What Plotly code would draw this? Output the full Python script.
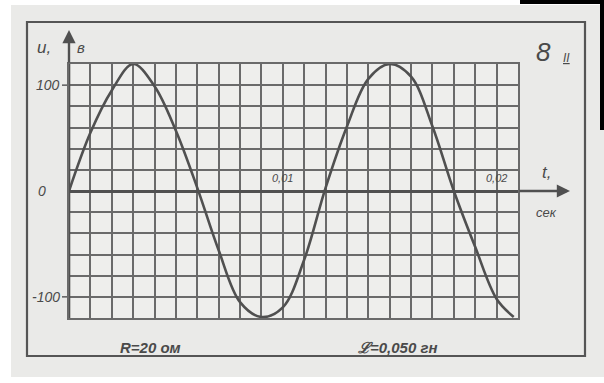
import plotly.graph_objects as go

# data
t_sec = [0.000, 0.001, 0.002, 0.003, 0.004, 0.005, 0.006, 0.007, 0.008, 0.009, 0.010,
         0.011, 0.012, 0.013, 0.014, 0.015, 0.016, 0.017, 0.018, 0.019, 0.020, 0.0208]
u_volt = [0, 55, 95, 120, 99, 57, 3, -56, -105, -119, -110,
          -65, 3, 61, 106, 120, 108, 61, 0, -53, -102, -119]
y_tick_vals = [100, 0, -100]
y_tick_text = ["100", "0", "-100"]
x_tick_vals = [0.01, 0.02]
x_tick_text = ["0,01", "0,02"]

W, H = 604, 383
L, R, T, B = 69, 86, 64, 65
PW, PH = W - L - R, H - T - B

def px(X):
    return (X - L) / PW

def py(Y):
    return (H - B - Y) / PH

INK = "#4a4a4a"
GRID = "#6a6a6a"
BG = "#eaeae8"
FONT = "Liberation Sans"

fig = go.Figure()
fig.add_trace(go.Scatter(x=t_sec, y=u_volt, mode="lines", line_shape="spline",
                         line=dict(color="#505050", width=2.6), hoverinfo="skip",
                         showlegend=False))

fig.update_layout(
    width=W, height=H,
    margin=dict(l=L, r=R, t=T, b=B, pad=0),
    paper_bgcolor=BG, plot_bgcolor="#eeeeec",
    showlegend=False,
    xaxis=dict(range=[0, 0.021], dtick=0.001, tick0=0, showgrid=True,
               gridcolor=GRID, gridwidth=1.7, showticklabels=False, ticks="",
               zeroline=False, showline=True, mirror=True, linecolor=GRID,
               linewidth=1.7, fixedrange=True),
    yaxis=dict(range=[-120, 120], dtick=20, tick0=0, showgrid=True,
               gridcolor=GRID, gridwidth=1.7, showticklabels=False, ticks="",
               zeroline=True, zerolinecolor="#505050", zerolinewidth=2.6,
               showline=True, mirror=True, linecolor=GRID, linewidth=1.7,
               fixedrange=True),
)

shapes = []
# outer hand-drawn frame
shapes.append(dict(type="rect", xref="paper", yref="paper",
                   x0=px(27), x1=px(585), y0=py(356), y1=py(22),
                   line=dict(color="#555555", width=2.2), fillcolor="rgba(0,0,0,0)",
                   layer="below"))
# thick vertical axis at t=0
shapes.append(dict(type="line", xref="x", yref="paper", x0=0, x1=0,
                   y0=0, y1=1, line=dict(color="#505050", width=2.6)))
# scan edges
shapes.append(dict(type="rect", xref="paper", yref="paper", x0=px(0), x1=px(11),
                   y0=py(383), y1=py(0), fillcolor="white", line=dict(width=0)))
shapes.append(dict(type="rect", xref="paper", yref="paper", x0=px(0), x1=px(604),
                   y0=py(5), y1=py(0), fillcolor="white", line=dict(width=0)))
shapes.append(dict(type="rect", xref="paper", yref="paper", x0=px(0), x1=px(604),
                   y0=py(383), y1=py(377), fillcolor="white", line=dict(width=0)))
shapes.append(dict(type="rect", xref="paper", yref="paper", x0=px(600), x1=px(604),
                   y0=py(130), y1=py(0), fillcolor="black", line=dict(width=0)))
shapes.append(dict(type="rect", xref="paper", yref="paper", x0=px(520), x1=px(604),
                   y0=py(4), y1=py(0), fillcolor="black", line=dict(width=0)))
# small tick marks left of the grid
for v in [100, -100]:
    shapes.append(dict(type="line", xref="paper", yref="y", x0=px(62), x1=px(69),
                       y0=v, y1=v, line=dict(color=GRID, width=1.7)))
fig.update_layout(shapes=shapes)

def label(text, X, Y, size, xanchor="center", color=INK, bold=False):
    fig.add_annotation(text=text, xref="paper", yref="paper", x=px(X), y=py(Y),
                       xanchor=xanchor, yanchor="middle", showarrow=False,
                       font=dict(family=FONT, size=size, color=color, style="italic",
                                 weight="bold" if bold else "normal"))

# y tick labels
for v, txt in zip(y_tick_vals, y_tick_text):
    fig.add_annotation(text=txt, xref="paper", yref="y",
                       x=px(62 if v != 0 else 48), y=v, xanchor="right", yanchor="middle",
                       showarrow=False,
                       font=dict(family=FONT, size=14, color=INK, style="italic"))
# x tick labels (written inside the grid, above the axis)
for v, txt in zip(x_tick_vals, x_tick_text):
    fig.add_annotation(text=txt, xref="x", yref="paper", x=v, y=py(178),
                       xanchor="center", yanchor="middle", showarrow=False,
                       font=dict(family=FONT, size=11, color=INK, style="italic"))

# axis arrows
fig.add_annotation(x=px(69), y=py(30), xref="paper", yref="paper", ax=0, ay=34,
                   text="", showarrow=True, arrowhead=2, arrowsize=1.1,
                   arrowwidth=2.4, arrowcolor="#505050")
fig.add_annotation(x=px(570), y=0, xref="paper", yref="y", ax=-52, ay=0,
                   text="", showarrow=True, arrowhead=2, arrowsize=1.1,
                   arrowwidth=2.4, arrowcolor="#505050")

# axis titles
label("u,", 44, 48, 17)
label("в", 81, 48, 15)
label("t,", 546, 172, 17)
label("сек", 546, 212, 13)

# panel number
label("8", 543, 52, 26)
label("<u>II</u>", 566, 58, 12)

# parameters
label("R=20 ом", 150, 347, 15, bold=True)
label("ℒ=0,050 гн", 398, 347, 15, bold=True)

fig.write_html("out.html", config={"displayModeBar": False},
               post_script="document.body.style.margin='0';")
